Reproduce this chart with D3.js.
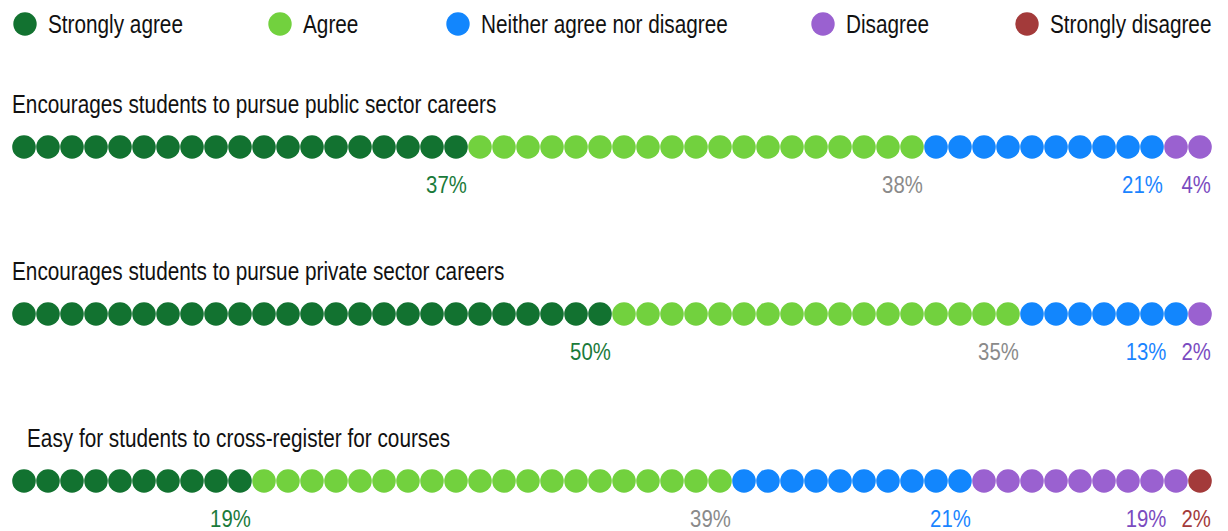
<!DOCTYPE html>
<html>
<head>
<meta charset="utf-8">
<script src="https://cdn.jsdelivr.net/npm/d3@7"></script>
<style>
  body { margin: 0; background: #fff; }
  svg text { font-family: "Liberation Sans Narrow", "Liberation Sans", Arial, sans-serif; }
</style>
</head>
<body>
<svg id="chart"></svg>
<script>
let w = 1228;
let h = 531;

// answer categories, in stacking order
let categories = ['Strongly agree', 'Agree', 'Neither agree nor disagree', 'Disagree', 'Strongly disagree'];
let dotColors = ['#127230', '#72d13e', '#1286fd', '#9a61d0', '#a33a3a'];
let labelColors = ['#1a7a3a', '#8a8a8a', '#1a84ff', '#7a4bbf', '#a33a3a'];

// survey statements
let questions = [
    'Encourages students to pursue public sector careers',
    'Encourages students to pursue private sector careers',
    'Easy for students to cross-register for courses'
];

// percent shown under each segment
let pctPublic = [37, 38, 21, 4, 0];
let pctPrivate = [50, 35, 13, 2, 0];
let pctCross = [19, 39, 21, 19, 2];

// number of dots (each ~2%) per segment
let dotsPublic = [19, 19, 10, 2, 0];
let dotsPrivate = [25, 17, 7, 1, 0];
let dotsCross = [10, 20, 10, 9, 1];

let pcts = [pctPublic, pctPrivate, pctCross];
let dots = [dotsPublic, dotsPrivate, dotsCross];
let titleIndent = [0, 0, 15];

let svg = d3.select('#chart').attr('width', w).attr('height', h);

let r = 11.8;
let xScale = d3.scaleLinear().domain([0, 49]).range([24, 1200]);
let yScale = d3.scalePoint().domain(d3.range(questions.length)).range([147, 481]);
let color = d3.scaleOrdinal().domain(categories).range(dotColors);
let labelColor = d3.scaleOrdinal().domain(categories).range(labelColors);

// fall back to squeezing regular Liberation Sans if the narrow cut is missing
let squeeze = 1;
let probe = svg.append('text').style('font-size', '20px').text('Strongly agree');
let wNarrow = probe.node().getComputedTextLength();
probe.style('font-family', '"Liberation Sans", Arial, sans-serif');
let wWide = probe.node().getComputedTextLength();
probe.remove();
if (wWide - wNarrow < 2) squeeze = 0.83;

function addText(g, x, y, str, size, fill, anchor) {
    return g.append('text')
        .attr('transform', 'translate(' + x + ',' + y + ') scale(' + squeeze + ',1)')
        .attr('text-anchor', anchor || 'start')
        .style('font-size', size + 'px')
        .style('fill', fill)
        .text(str);
}

// legend
let legendX = [25, 280, 458, 823, 1027];
let legend = svg.append('g');
categories.forEach((c, i) => {
    legend.append('circle')
        .attr('cx', legendX[i]).attr('cy', 24).attr('r', 11.7)
        .attr('fill', color(c));
    addText(legend, legendX[i] + 23, 33, c, 25, '#111');
});

// rows
questions.forEach((q, qi) => {
    let g = svg.append('g');
    let cy = yScale(qi);
    addText(g, 12 + titleIndent[qi], cy - 34, q, 25, '#111');

    let cells = [];
    let labels = [];
    let start = 0;
    dots[qi].forEach((n, ci) => {
        for (let k = 0; k < n; k++) cells.push({ idx: start + k, cat: categories[ci] });
        if (n > 0) {
            labels.push({ end: xScale(start + n - 1) + r - 1, text: pcts[qi][ci] + '%', cat: categories[ci] });
        }
        start += n;
    });

    g.selectAll('circle')
        .data(cells)
        .enter()
        .append('circle')
        .attr('cx', d => xScale(d.idx))
        .attr('cy', cy)
        .attr('r', r)
        .attr('fill', d => color(d.cat));

    // place labels right to left, pushing a label left if it would hit its neighbour
    let leftLimit = Infinity;
    labels.reverse().forEach(l => {
        let x = Math.min(l.end, leftLimit - 15);
        let t = addText(g, x, cy + 46, l.text, 24.5, labelColor(l.cat), 'end');
        leftLimit = x - t.node().getComputedTextLength() * squeeze;
    });
});
</script>
</body>
</html>
